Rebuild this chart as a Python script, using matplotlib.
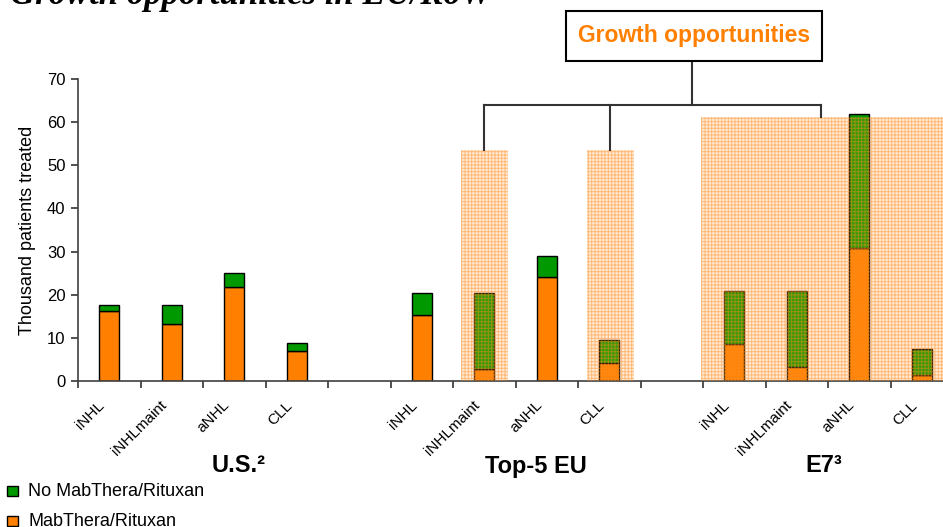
import matplotlib
matplotlib.use("Agg")
import matplotlib.pyplot as plt
from matplotlib.patches import Rectangle
from matplotlib.lines import Line2D
import matplotlib.transforms as mtransforms

plt.rcParams['font.family'] = ['Liberation Sans', 'DejaVu Sans']
plt.rcParams['hatch.linewidth'] = 0.7

# ---- data ----
categories = ["iNHL", "iNHLmaint", "aNHL", "CLL"]
groups = ["U.S.²", "Top-5 EU", "E7³"]
# MabThera/Rituxan treated (thousand patients)
mab_us = [16.2, 13.2, 21.9, 7.0]
mab_eu = [15.3, 2.8, 24.2, 4.1]
mab_e7 = [8.6, 3.3, 30.9, 1.3]
# Total patients treated (thousand)
tot_us = [17.7, 17.6, 25.0, 8.9]
tot_eu = [20.3, 20.3, 28.9, 9.4]
tot_e7 = [20.9, 20.9, 61.9, 7.35]
# growth-opportunity shaded regions (start slot, end slot, height)
shade_eu = [(6.13, 6.88, 53.6), (8.14, 8.90, 53.6)]
shade_e7 = [(9.96, 13.84, 61.3)]

GREEN = "#009900"
ORANGE = "#FF8000"

fig = plt.figure(figsize=(9.43, 5.27), dpi=100)
ax = fig.add_axes([78/943, 146/527, 865/943, 302/527])

mab = mab_us + mab_eu + mab_e7
tot = tot_us + tot_eu + tot_e7
slots = [0, 1, 2, 3, 5, 6, 7, 8, 10, 11, 12, 13]
centers = [s + 0.5 for s in slots]
no_mab = [t - m for t, m in zip(tot, mab)]
bw = 0.32
ax.bar(centers, mab, width=bw, color=ORANGE, edgecolor="black", linewidth=1, zorder=2)
ax.bar(centers, no_mab, bottom=mab, width=bw, color=GREEN, edgecolor="black", linewidth=1, zorder=2)

# overlay shading (translucent orange grid)
for (x0, x1, h) in shade_eu + shade_e7:
    ax.add_patch(Rectangle((x0, 0), x1 - x0, h, facecolor=(1, 0.6, 0.2, 0.20),
                           edgecolor="none", linewidth=0, zorder=3))
    ax.add_patch(Rectangle((x0, 0), x1 - x0, h, facecolor="none",
                           edgecolor=(1, 0.55, 0.1, 0.5), hatch="+++++", linewidth=0, zorder=3))

ax.set_xlim(0, 13.84)
ax.set_ylim(0, 70)
ax.set_yticks(range(0, 71, 10))
ax.set_xticks(range(0, 14))
ax.set_xticklabels([])
ax.tick_params(axis="x", which="major", length=5, width=1.2, color="#333333", direction="out")
ax.tick_params(axis="y", length=5, width=1.2, color="#333333", labelsize=12, pad=4)
for s in ["top", "right"]:
    ax.spines[s].set_visible(False)
for s in ["left", "bottom"]:
    ax.spines[s].set_color("#404040")
    ax.spines[s].set_linewidth(1.2)
ax.set_ylabel("Thousand patients treated", fontsize=13, labelpad=8)

# category labels, rotated 45 degrees
offset = mtransforms.ScaledTranslation(0, -17 / 100, fig.dpi_scale_trans)
trans = mtransforms.blended_transform_factory(ax.transData, ax.transAxes) + offset
for c, lab in zip(centers, categories * 3):
    ax.text(c - 0.19, 0, lab, transform=trans, rotation=45, ha="right", va="top",
            rotation_mode="anchor", fontsize=11, clip_on=False)

# bracket to "Growth opportunities"
lc = "#333333"
def L(xs, ys):
    ax.add_line(Line2D(xs, ys, color=lc, linewidth=1.5, clip_on=False, zorder=4))
L([9.82, 9.82], [74.2, 64.05])
L([6.5, 11.89], [64.05, 64.05])
L([6.5, 6.5], [64.05, 53.6])
L([8.51, 8.51], [64.05, 53.6])
L([11.89, 11.89], [64.05, 61.3])
ax.add_patch(Rectangle((7.80, 74.2), 11.90 - 7.80, 85.8 - 74.2, facecolor="white",
                       edgecolor="black", linewidth=1.5, clip_on=False, zorder=4))
ax.text((7.80 + 11.90) / 2, (74.2 + 85.8) / 2, "Growth opportunities", color=ORANGE,
        fontsize=16.5, fontweight="bold", ha="center", va="center", zorder=5, clip_on=False)

# group labels
for g, xp in zip(groups, [239, 536, 824]):
    fig.text(xp / 943, 1 - 466 / 527, g, fontsize=17, fontweight="bold", ha="center", va="center")

# legend
for i, (lab, col) in enumerate([("No MabThera/Rituxan", GREEN), ("MabThera/Rituxan", ORANGE)]):
    yc = 491 + 30 * i
    fig.patches.append(Rectangle((7 / 943, 1 - (yc + 5) / 527), 11 / 943, 10 / 527,
                                 facecolor=col, edgecolor="black", linewidth=1,
                                 transform=fig.transFigure, figure=fig))
    fig.text(28 / 943, 1 - yc / 527, lab, fontsize=13, ha="left", va="center")

# cut-off title at top
fig.text(10 / 943, 1 - 4 / 527, "Growth opportunities in EU/RoW", fontsize=25,
         fontstyle="italic", fontweight="bold", family=["Liberation Serif", "DejaVu Serif"],
         ha="left", va="baseline")

fig.savefig("out.png", dpi=100)
